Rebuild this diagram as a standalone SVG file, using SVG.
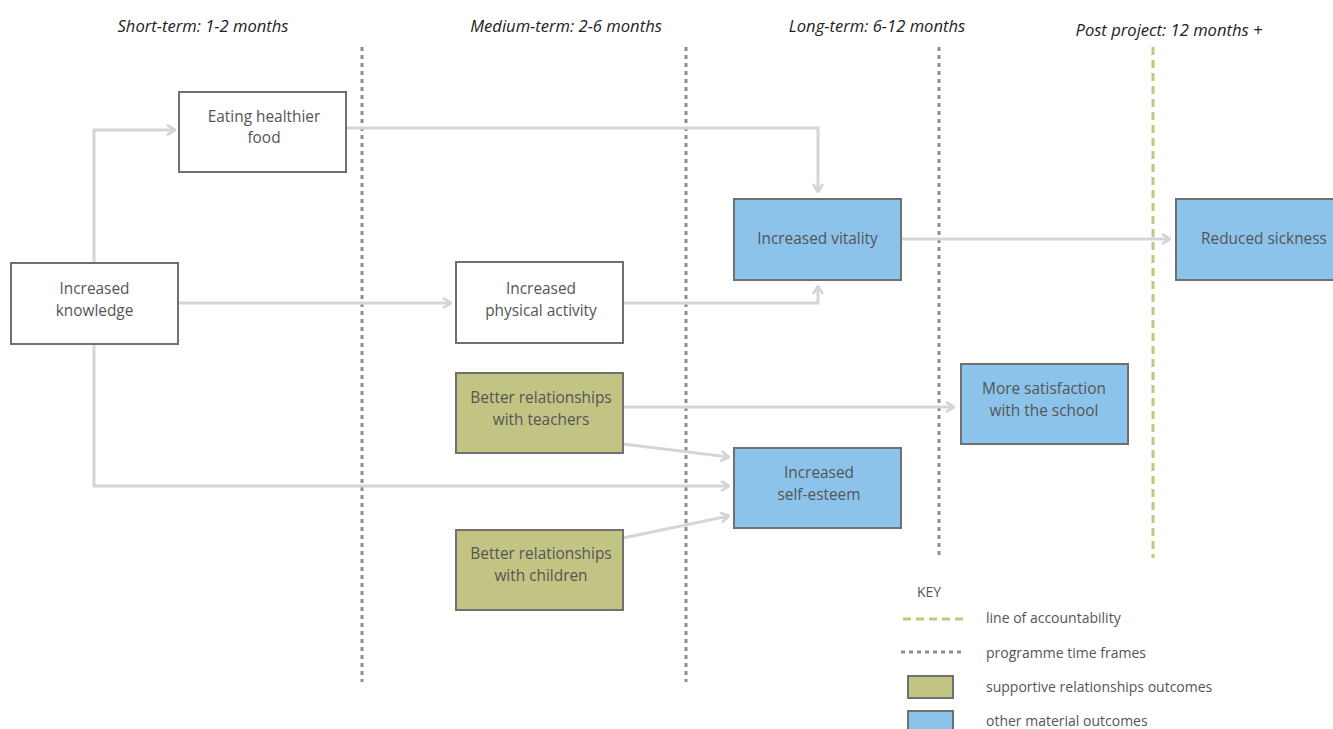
<svg xmlns="http://www.w3.org/2000/svg" width="1333" height="729" viewBox="0 0 1333 729">
<defs>
<marker id="arr" viewBox="0 0 10 12" refX="9" refY="6" markerWidth="10" markerHeight="12" markerUnits="userSpaceOnUse" orient="auto">
<path d="M1,1 L9,6 L1,11" fill="none" stroke="#d4d4d4" stroke-width="2.6"/>
</marker>
<style>
.bg{fill:#fff}
.node rect{stroke:#707070;stroke-width:2}
.plain{fill:#fff}
.green{fill:#c2c484}
.blue{fill:#8cc3ea}
.lbl{font-family:"Open Sans","Noto Sans",sans-serif;font-size:15.4px;fill:#555;text-anchor:middle}
.hdr{font-family:"Open Sans","Noto Sans",sans-serif;font-size:16.6px;font-style:italic;fill:#222;text-anchor:middle}
.key{font-family:"Open Sans","Noto Sans",sans-serif;font-size:14px;fill:#555}
.tf{stroke:#8f8f8f;stroke-width:3;stroke-dasharray:4 4;fill:none}
.acc{stroke:#c4c67f;stroke-width:3;stroke-dasharray:8 5;fill:none}
.conn{stroke:#d6d6d6;stroke-width:3;fill:none;marker-end:url(#arr)}
</style>
</defs>
<rect class="bg" x="0" y="0" width="1333" height="729"/>
<g id="headers">
<text class="hdr" x="203" y="32">Short-term: 1-2 months</text>
<text class="hdr" x="566" y="32">Medium-term: 2-6 months</text>
<text class="hdr" x="877" y="32">Long-term: 6-12 months</text>
<text class="hdr" x="1169" y="36">Post project: 12 months +</text>
</g>
<g id="timeframes">
<line class="tf" x1="362" y1="47" x2="362" y2="682"/>
<line class="tf" x1="686" y1="47" x2="686" y2="682"/>
<line class="tf" x1="939" y1="47" x2="939" y2="558"/>
<line class="acc" x1="1153" y1="47" x2="1153" y2="558"/>
</g>
<g id="connectors">
<path class="conn" d="M94,263 L94,130 L175,130"/>
<path class="conn" d="M178,303 L451,303"/>
<path class="conn" d="M94,344 L94,486 L729,486"/>
<path class="conn" d="M346,128 L818,128 L818,192"/>
<path class="conn" d="M623,303 L818,303 L818,286"/>
<path class="conn" d="M901,239 L1170,239"/>
<path class="conn" d="M623,407 L954,407"/>
<path class="conn" d="M623,444 L729,457"/>
<path class="conn" d="M623,538 L729,516"/>
</g>
<g id="knowledge" class="node">
<rect class="plain" x="11" y="263" width="167" height="81"/>
<text class="lbl" x="94.5" y="294">Increased</text>
<text class="lbl" x="94.5" y="316">knowledge</text>
</g>
<g id="eating" class="node">
<rect class="plain" x="179" y="92" width="167" height="80"/>
<text class="lbl" x="264" y="122">Eating healthier</text>
<text class="lbl" x="264" y="143">food</text>
</g>
<g id="physical" class="node">
<rect class="plain" x="456" y="262" width="167" height="81"/>
<text class="lbl" x="541" y="294">Increased</text>
<text class="lbl" x="541" y="316">physical activity</text>
</g>
<g id="teachers" class="node">
<rect class="green" x="456" y="373" width="167" height="80"/>
<text class="lbl" x="541" y="403">Better relationships</text>
<text class="lbl" x="541" y="425">with teachers</text>
</g>
<g id="children" class="node">
<rect class="green" x="456" y="530" width="167" height="80"/>
<text class="lbl" x="541" y="559">Better relationships</text>
<text class="lbl" x="541" y="581">with children</text>
</g>
<g id="vitality" class="node">
<rect class="blue" x="734" y="199" width="167" height="81"/>
<text class="lbl" x="817.5" y="244">Increased vitality</text>
</g>
<g id="selfesteem" class="node">
<rect class="blue" x="734" y="448" width="167" height="80"/>
<text class="lbl" x="819" y="478">Increased</text>
<text class="lbl" x="819" y="500">self-esteem</text>
</g>
<g id="satisfaction" class="node">
<rect class="blue" x="961" y="364" width="167" height="80"/>
<text class="lbl" x="1044" y="394">More satisfaction</text>
<text class="lbl" x="1044" y="416">with the school</text>
</g>
<g id="sickness" class="node">
<rect class="blue" x="1176" y="199" width="170" height="81"/>
<text class="lbl" x="1264" y="244">Reduced sickness</text>
</g>
<g id="legend">
<text class="key" x="917" y="597">KEY</text>
<line class="acc" x1="903" y1="619" x2="963" y2="619"/>
<text class="key" x="986" y="623">line of accountability</text>
<line class="tf" x1="901" y1="652" x2="965" y2="652"/>
<text class="key" x="986" y="658">programme time frames</text>
<rect class="green" x="908" y="676" width="45" height="22" stroke="#707070" stroke-width="2"/>
<text class="key" x="986" y="692">supportive relationships outcomes</text>
<rect class="blue" x="908" y="711" width="45" height="22" stroke="#707070" stroke-width="2"/>
<text class="key" x="986" y="726">other material outcomes</text>
</g>
</svg>
